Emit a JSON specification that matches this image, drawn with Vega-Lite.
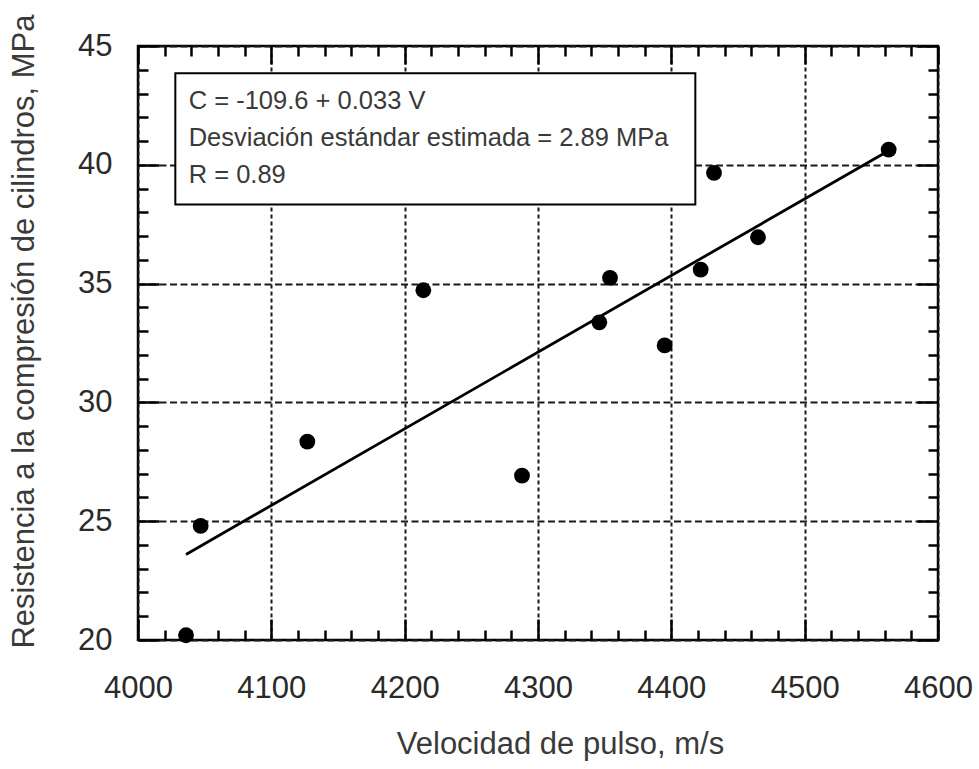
{
  "$schema": "https://vega.github.io/schema/vega-lite/v6.json",
  "autosize": {"type": "none"},
  "width": 800,
  "height": 594,
  "padding": {"left": 138, "top": 46, "right": 41, "bottom": 129},
  "background": "white",
  "config": {
    "view": {"stroke": "#000000", "strokeWidth": 2.5},
    "font": "Liberation Sans"
  },
  "datasets": {
    "points": [
      {"V": 4036, "C": 20.2},
      {"V": 4047, "C": 24.8},
      {"V": 4127, "C": 28.35},
      {"V": 4214, "C": 34.72},
      {"V": 4288, "C": 26.92},
      {"V": 4346, "C": 33.37},
      {"V": 4354, "C": 35.24},
      {"V": 4395, "C": 32.4},
      {"V": 4422, "C": 35.59},
      {"V": 4432, "C": 39.66},
      {"V": 4465, "C": 36.95},
      {"V": 4563, "C": 40.64}
    ],
    "fit": [
      {"V": 4036, "C": 23.6},
      {"V": 4560, "C": 40.5}
    ],
    "note": [
      {"label": "C = -109.6 + 0.033 V"}
    ]
  },
  "resolve": {"axis": {"x": "independent", "y": "independent"}},
  "layer": [
    {
      "data": {"name": "points"},
      "mark": {"type": "point", "filled": true, "shape": "circle", "size": 250, "color": "#000000", "opacity": 1},
      "encoding": {
        "x": {
          "field": "V", "type": "quantitative",
          "scale": {"domain": [4000, 4600], "nice": false, "zero": false},
          "axis": {
            "orient": "bottom",
            "values": [4000,4020,4040,4060,4080,4100,4120,4140,4160,4180,4200,4220,4240,4260,4280,4300,4320,4340,4360,4380,4400,4420,4440,4460,4480,4500,4520,4540,4560,4580,4600],
            "format": "d",
            "labelExpr": "datum.value % 100 === 0 ? datum.label : ''",
            "labelOverlap": false,
            "labelFlush": false,
            "labelFont": "Liberation Sans",
            "labelFontSize": 31,
            "labelColor": "#2a2a2a",
            "labelBaseline": "alphabetic",
            "labelPadding": 78,
            "domain": false,
            "ticks": true,
            "tickColor": "#000000",
            "tickWidth": 2.5,
            "tickSize": {"condition": {"test": "datum.value % 100 === 0", "value": -21}, "value": -10},
            "grid": true,
            "gridColor": "#1a1a1a",
            "gridWidth": 2,
            "gridDash": [4, 3],
            "gridOpacity": {"condition": {"test": "datum.value % 100 === 0", "value": 1}, "value": 0},
            "title": "Velocidad de pulso, m/s",
            "titleFont": "Liberation Sans",
            "titleFontSize": 31,
            "titleFontWeight": "normal",
            "titleColor": "#3a3a3a",
            "titleX": 422,
            "titleY": 113,
            "titleBaseline": "alphabetic",
            "titleAlign": "center",
            "titleAnchor": null
          }
        },
        "y": {
          "field": "C", "type": "quantitative",
          "scale": {"domain": [20, 45], "nice": false, "zero": false},
          "axis": {
            "orient": "left",
            "values": [20,21,22,23,24,25,26,27,28,29,30,31,32,33,34,35,36,37,38,39,40,41,42,43,44,45],
            "format": "d",
            "labelExpr": "datum.value % 5 === 0 ? datum.label : ''",
            "labelOverlap": false,
            "labelFlush": false,
            "labelFont": "Liberation Sans",
            "labelFontSize": 31,
            "labelColor": "#2a2a2a",
            "labelBaseline": "middle",
            "labelPadding": 47,
            "domain": false,
            "ticks": true,
            "tickColor": "#000000",
            "tickWidth": 2.5,
            "tickSize": {"condition": {"test": "datum.value % 5 === 0", "value": -21}, "value": -10},
            "grid": true,
            "gridColor": "#1a1a1a",
            "gridWidth": 2,
            "gridDash": [7, 3.5],
            "gridOpacity": {"condition": {"test": "datum.value % 5 === 0", "value": 1}, "value": 0},
            "title": "Resistencia a la compresión de cilindros, MPa",
            "titleFont": "Liberation Sans",
            "titleFontSize": 31,
            "titleFontWeight": "normal",
            "titleColor": "#3a3a3a",
            "titleAngle": -90,
            "titleX": -114,
            "titleY": 285,
            "titleBaseline": "middle",
            "titleAlign": "center",
            "titleAnchor": null
          }
        }
      }
    },
    {
      "data": {"name": "fit"},
      "mark": {"type": "line", "color": "#000000", "strokeWidth": 2.8},
      "encoding": {
        "x": {
          "field": "V", "type": "quantitative",
          "scale": {"domain": [4000, 4600], "nice": false, "zero": false},
          "axis": {
            "orient": "top",
            "values": [4000,4020,4040,4060,4080,4100,4120,4140,4160,4180,4200,4220,4240,4260,4280,4300,4320,4340,4360,4380,4400,4420,4440,4460,4480,4500,4520,4540,4560,4580,4600],
            "labels": false,
            "domain": false,
            "grid": false,
            "tickColor": "#000000",
            "tickWidth": 2.5,
            "tickSize": {"condition": {"test": "datum.value % 100 === 0", "value": -18}, "value": -10},
            "title": null
          }
        },
        "y": {
          "field": "C", "type": "quantitative",
          "scale": {"domain": [20, 45], "nice": false, "zero": false},
          "axis": {
            "orient": "right",
            "values": [20,21,22,23,24,25,26,27,28,29,30,31,32,33,34,35,36,37,38,39,40,41,42,43,44,45],
            "labels": false,
            "domain": false,
            "grid": false,
            "tickColor": "#000000",
            "tickWidth": 2.5,
            "tickSize": {"condition": {"test": "datum.value % 5 === 0", "value": -21}, "value": -10},
            "title": null
          }
        }
      }
    },
    {
      "data": {"name": "note"},
      "mark": {"type": "rect", "fill": "#ffffff", "stroke": "#000000", "strokeWidth": 2},
      "encoding": {
        "x": {"datum": 4028, "type": "quantitative", "axis": null},
        "x2": {"datum": 4418},
        "y": {"datum": 43.85, "type": "quantitative", "axis": null},
        "y2": {"datum": 38.33}
      }
    },
    {
      "data": {"name": "note"},
      "mark": {
        "type": "text",
        "align": "left",
        "baseline": "middle",
        "font": "Liberation Sans",
        "fontSize": 25.5,
        "lineHeight": 37,
        "color": "#3a3a3a",
        "text": ["C = -109.6 + 0.033 V", "Desviación estándar estimada = 2.89 MPa", "R = 0.89"]
      },
      "encoding": {
        "x": {"datum": 4038, "type": "quantitative", "axis": null},
        "y": {"datum": 42.68, "type": "quantitative", "axis": null}
      }
    }
  ]
}
